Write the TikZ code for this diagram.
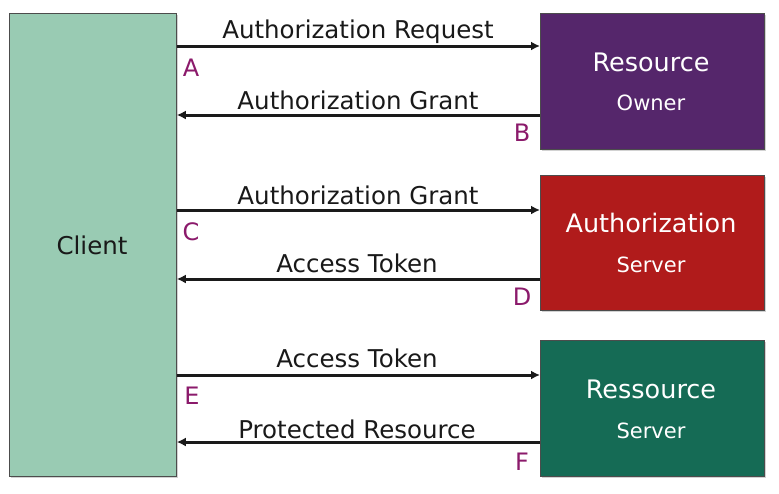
\documentclass[tikz,border=0pt]{standalone}
\usepackage{fontspec}
\setmainfont{DejaVu Sans}
\usetikzlibrary{arrows.meta,shadows}
\definecolor{clientc}{HTML}{99CBB3}
\definecolor{ownerc}{HTML}{55266B}
\definecolor{authc}{HTML}{B01B1B}
\definecolor{resc}{HTML}{156B55}
\definecolor{letterc}{HTML}{8B1A6B}
\definecolor{linec}{HTML}{1A1A1A}
\tikzset{
  boxstyle/.style={draw=black!70, line width=0.8pt, inner sep=0pt, anchor=north west,
     drop shadow={shadow xshift=2pt, shadow yshift=-2pt, opacity=0.35}},
  msg/.style={draw=linec, line width=3pt, -{Latex[length=9pt,width=9pt]}},
  lbl/.style={font=\fontsize{24.5}{26}\selectfont, text=black!90, inner sep=0pt},
  letter/.style={font=\fontsize{24}{26}\selectfont, text=letterc, inner sep=0pt},
  big/.style={font=\fontsize{25.5}{28}\selectfont, text=white, inner sep=0pt},
  small/.style={font=\fontsize{21}{23}\selectfont, text=white, inner sep=0pt}
}
\begin{document}
\begin{tikzpicture}[x=1pt,y=-1pt]
\useasboundingbox[fill=white] (0,0) rectangle (779,493);
\node[boxstyle, fill=clientc, minimum width=167pt, minimum height=463pt] (client) at (9,13) {};
\node[boxstyle, fill=ownerc, minimum width=224pt, minimum height=136pt] (owner) at (540,13) {};
\node[boxstyle, fill=authc, minimum width=224pt, minimum height=135pt] (auth) at (540,175) {};
\node[boxstyle, fill=resc, minimum width=224pt, minimum height=136pt] (res) at (540,340) {};
\node[lbl, font=\fontsize{24.5}{26}\selectfont] (clientt) at (92,245) {Client};
\node[big] (ownert1) at (651,62) {Resource};
\node[small] (ownert2) at (651,103) {Owner};
\node[big] (autht1) at (651,223) {Authorization};
\node[small] (autht2) at (651,265) {Server};
\node[big] (rest1) at (651,389) {Ressource};
\node[small] (rest2) at (651,431) {Server};
% arrows
\coordinate (a1) at (client.east |- 0,46); \coordinate (a2) at (owner.west |- 0,46);
\coordinate (b1) at (client.east |- 0,115); \coordinate (b2) at (owner.west |- 0,115);
\coordinate (c1) at (client.east |- 0,210); \coordinate (c2) at (auth.west |- 0,210);
\coordinate (d1) at (client.east |- 0,279); \coordinate (d2) at (auth.west |- 0,279);
\coordinate (e1) at (client.east |- 0,375); \coordinate (e2) at (res.west |- 0,375);
\coordinate (f1) at (client.east |- 0,442); \coordinate (f2) at (res.west |- 0,442);
\draw[msg] (a1) -- (a2);
\draw[msg] (b2) -- (b1);
\draw[msg] (c1) -- (c2);
\draw[msg] (d2) -- (d1);
\draw[msg] (e1) -- (e2);
\draw[msg] (f2) -- (f1);
\node[lbl] (la) at (358,32) {Authorization Request};
\node[lbl] (lb) at (358,100) {Authorization Grant};
\node[lbl] (lc) at (358,195) {Authorization Grant};
\node[lbl] (ld) at (357,263) {Access Token};
\node[lbl] (le) at (357,358) {Access Token};
\node[lbl] (lf) at (357,429) {Protected Resource};
\node[letter] (A) at (191,68) {A};
\node[letter] (B) at (522,133) {B};
\node[letter] (C) at (191,232) {C};
\node[letter] (D) at (522,297) {D};
\node[letter] (E) at (192,396) {E};
\node[letter] (F) at (522,462) {F};
\end{tikzpicture}
\end{document}
